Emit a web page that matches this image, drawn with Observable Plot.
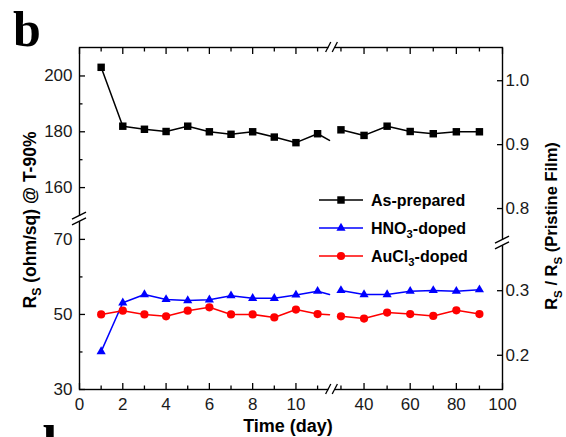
<!DOCTYPE html>
<html>
<head>
<meta charset="utf-8">
<script src="https://cdn.jsdelivr.net/npm/d3@7"></script>
<script src="https://cdn.jsdelivr.net/npm/@observablehq/plot@0.6"></script>
<style>
  html, body { margin: 0; padding: 0; background: #fff; }
  #chart { position: relative; width: 566px; height: 437px; overflow: hidden; background: #fff; }
  #chart svg { position: absolute; left: 0; top: 0; }
</style>
</head>
<body>
<div id="chart"></div>
<script>
// ---------- data ----------
const seriesNames = ["As-prepared", "HNO3-doped", "AuCl3-doped"];
const days = [1, 2, 3, 4, 5, 6, 7, 8, 9, 10, 11, 30, 40, 50, 60, 70, 80, 90];
const asPrepared = [203.1, 182, 180.9, 180.1, 182, 180, 179.1, 180, 178.1, 176.1, 179.3, 180.7, 178.7, 182, 180.1, 179.3, 180, 180];
const hno3Doped  = [40.1, 53.1, 55.3, 54, 53.7, 53.9, 55, 54.3, 54.3, 55.2, 56.2, 56.4, 55.3, 55.3, 56.2, 56.4, 56.2, 56.6];
const aucl3Doped = [50, 51, 50, 49.5, 51, 51.9, 50, 50, 49.2, 51.3, 50.1, 49.5, 48.9, 50.5, 50.1, 49.6, 51.1, 50.1];
// line continuation toward the axis break (clipped segment after day 11)
const breakStubDay = 11.55;
const breakStubValues = [176.9, 55.3, 49.9];

const xTicksMajor = [0, 2, 4, 6, 8, 10, 40, 60, 80, 100];
const xTicksMinor = [1, 3, 5, 7, 9, 11, 30, 50, 70, 90];
const yTicksMajor = [30, 50, 70, 160, 180, 200];
const yTicksMinor = [40, 60, 170, 190];
const y2Ticks = [0.2, 0.3, 0.8, 0.9, 1.0];

// broken-axis (piecewise) scale definitions
const xDomain = [0, 11.55, 27.2, 100];
const yDomain = [30, 74.5, 150, 210.2];
const y2Domain = [0.147, 0.37, 0.75, 1.052];

// ---------- styles ----------
const seriesColors = ["#000000", "#0000ff", "#ff0000"];
const seriesSymbols = ["square", "triangle", "circle"];
const seriesR = [4.2, 3.4, 4.1];

const W = 566, H = 437;
const M = {left: 79, right: 64, top: 47, bottom: 48};
const xRange = [79, 329, 334, 502];
const yRange = [389, 222, 215, 47];
const y2Range = [389, 245, 240, 47];

const rows = [];
const seriesVals = [asPrepared, hno3Doped, aucl3Doped];
seriesNames.forEach((name, s) => {
  days.forEach((d, i) => rows.push({series: name, day: d, value: seriesVals[s][i], seg: d < 20 ? 0 : 1, dot: true}));
  rows.push({series: name, day: breakStubDay, value: breakStubValues[s], seg: 0, dot: false});
});

const font = "'Liberation Sans', Arial, Helvetica, sans-serif";
const tickCol = "#1a1a1a";

const main = Plot.plot({
  width: W, height: H,
  marginLeft: M.left, marginRight: M.right, marginTop: M.top, marginBottom: M.bottom,
  x: {type: "linear", domain: xDomain, range: xRange, label: null},
  y: {type: "linear", domain: yDomain, range: yRange, label: null},
  style: {fontFamily: font, fontSize: "17px", color: tickCol, background: "transparent"},
  marks: [
    Plot.axisX(xTicksMajor, {anchor: "bottom", tickSize: 0, tickPadding: 8, fontSize: 17, label: null, fill: tickCol}),
    Plot.axisX(xTicksMajor, {anchor: "bottom", tickSize: -6, fill: "none", label: null, strokeWidth: 1.3, stroke: "#000"}),
    Plot.axisX(xTicksMinor, {anchor: "bottom", tickSize: -3.5, fill: "none", label: null, strokeWidth: 1.3, stroke: "#000"}),
    Plot.axisX(xTicksMajor, {anchor: "top", tickSize: -6, fill: "none", label: null, strokeWidth: 1.3, stroke: "#000"}),
    Plot.axisX(xTicksMinor, {anchor: "top", tickSize: -3.5, fill: "none", label: null, strokeWidth: 1.3, stroke: "#000"}),
    Plot.axisY(yTicksMajor, {anchor: "left", tickSize: 0, tickPadding: 7, fontSize: 17, label: null, fill: tickCol}),
    Plot.axisY(yTicksMajor, {anchor: "left", tickSize: -6, fill: "none", label: null, strokeWidth: 1.3, stroke: "#000"}),
    Plot.axisY(yTicksMinor, {anchor: "left", tickSize: -3.5, fill: "none", label: null, strokeWidth: 1.3, stroke: "#000"}),
    Plot.frame({stroke: "#000", strokeWidth: 1.4}),
    Plot.line(rows, {x: "day", y: "value", z: d => d.series + d.seg, stroke: d => seriesColors[seriesNames.indexOf(d.series)], strokeWidth: 1.5}),
    ...seriesNames.map((name, s) =>
      Plot.dot(rows.filter(d => d.dot && d.series === name), {x: "day", y: "value", symbol: seriesSymbols[s], fill: seriesColors[s], r: seriesR[s], stroke: "none"})
    )
  ]
});

const right = Plot.plot({
  width: W, height: H,
  marginLeft: M.left, marginRight: M.right, marginTop: M.top, marginBottom: M.bottom,
  x: {type: "linear", domain: xDomain, range: xRange, label: null, axis: null},
  y: {type: "linear", domain: y2Domain, range: y2Range, label: null},
  style: {fontFamily: font, fontSize: "17px", color: tickCol, background: "transparent"},
  marks: [
    Plot.axisY(y2Ticks, {anchor: "right", tickSize: 0, tickPadding: 3, fontSize: 17, tickFormat: d3.format(".1f"), label: null, fill: tickCol}),
    Plot.axisY(y2Ticks, {anchor: "right", tickSize: -6, fill: "none", label: null, strokeWidth: 1.3, stroke: "#000"})
  ]
});

const chart = document.getElementById("chart");
chart.appendChild(main);
chart.appendChild(right);

// ---------- decorations: axis breaks, titles, legend ----------
const sx = main.scale("x"), sy = main.scale("y"), sy2 = right.scale("y");
const xb = (sx.apply(xDomain[1]) + sx.apply(xDomain[2])) / 2;
const ybL = (sy.apply(yDomain[1]) + sy.apply(yDomain[2])) / 2;
const ybR = (sy2.apply(y2Domain[1]) + sy2.apply(y2Domain[2])) / 2;
const fTop = M.top, fBottom = H - M.bottom, fLeft = M.left, fRight = W - M.right;

const ov = d3.select(right);
const deco = ov.append("g");
function hBreak(y) {
  deco.append("rect").attr("x", xb - 3).attr("y", y - 2.5).attr("width", 6).attr("height", 5).attr("fill", "#fff");
  for (const o of [-3.3, 3.3]) {
    deco.append("line").attr("x1", xb + o - 2.6).attr("y1", y + 5).attr("x2", xb + o + 2.6).attr("y2", y - 5)
      .attr("stroke", "#000").attr("stroke-width", 1.3);
  }
}
function vBreak(x, y) {
  deco.append("rect").attr("x", x - 2.5).attr("y", y - 2.6).attr("width", 5).attr("height", 5.2).attr("fill", "#fff");
  for (const o of [-2.8, 2.8]) {
    deco.append("line").attr("x1", x - 7).attr("y1", y + o + 3.5).attr("x2", x + 7).attr("y2", y + o - 3.5)
      .attr("stroke", "#000").attr("stroke-width", 1.3);
  }
}
hBreak(fTop); hBreak(fBottom);
vBreak(fLeft, ybL); vBreak(fRight, ybR);

function addText(g, parts, attrs, fontSize) {
  const t = g.append("text").attr("font-family", font).attr("font-weight", "bold").attr("fill", "#000")
    .attr("font-size", fontSize).attr("text-anchor", "start");
  for (const [k, v] of Object.entries(attrs)) t.attr(k, v);
  for (const p of parts) {
    if (typeof p === "string") t.append("tspan").text(p);
    else if (p.sub) t.append("tspan").attr("font-size", fontSize * 0.7).attr("dy", p.dy).text(p.t);
    else t.append("tspan").attr("dy", p.dy).text(p.t);
  }
  return t;
}
const txt = ov.append("g");
const subL = 17.5 * 0.28, subR = 16.5 * 0.28;
// y-left title
addText(txt, ["R", {t: "S", dy: subL, sub: true}, {t: " (ohm/sq) @ T-90%", dy: -subL}],
  {transform: "translate(36,220) rotate(-90)", "text-anchor": "middle"}, 17.5);
// y-right title
addText(txt, ["R", {t: "S", dy: subR, sub: true}, {t: " / R", dy: -subR}, {t: "S", dy: subR, sub: true}, {t: " (Pristine Film)", dy: -subR}],
  {transform: "translate(557,226) rotate(-90)", "text-anchor": "middle"}, 16.5);
// x title
addText(txt, ["Time (day)"], {x: 288, y: 432, "text-anchor": "middle"}, 18);

// legend
const leg = ov.append("g");
const legY = [200, 228, 256];
const legLabels = [["As-prepared"], ["HNO", {t: "3", dy: 4, sub: true}, {t: "-doped", dy: -4}], ["AuCl", {t: "3", dy: 4, sub: true}, {t: "-doped", dy: -4}]];
seriesNames.forEach((name, s) => {
  const y = legY[s];
  leg.append("line").attr("x1", 319).attr("x2", 363).attr("y1", y).attr("y2", y).attr("stroke", seriesColors[s]).attr("stroke-width", 1.5);
  if (seriesSymbols[s] === "circle") {
    leg.append("circle").attr("cx", 341).attr("cy", y).attr("r", seriesR[s]).attr("fill", seriesColors[s]);
  } else {
    const sym = seriesSymbols[s] === "square" ? d3.symbolSquare : d3.symbolTriangle;
    leg.append("path").attr("transform", `translate(341,${y})`).attr("d", d3.symbol(sym, Math.PI * seriesR[s] ** 2)()).attr("fill", seriesColors[s]);
  }
  addText(leg, legLabels[s], {x: 371, y: y + 5.8}, 16);
});

// panel letters (the next panel's "d" is cut off by the bottom edge, as in the reference)
ov.append("text").attr("x", 13).attr("y", 46).attr("font-family", "'Liberation Serif', 'Times New Roman', serif")
  .attr("font-weight", "bold").attr("font-size", 50).attr("fill", "#000").attr("text-anchor", "start").text("b");
ov.append("text").attr("x", 27).attr("y", 463).attr("font-family", "'Liberation Serif', 'Times New Roman', serif")
  .attr("font-weight", "bold").attr("font-size", 54).attr("fill", "#000").attr("text-anchor", "start").text("d");
</script>
</body>
</html>
